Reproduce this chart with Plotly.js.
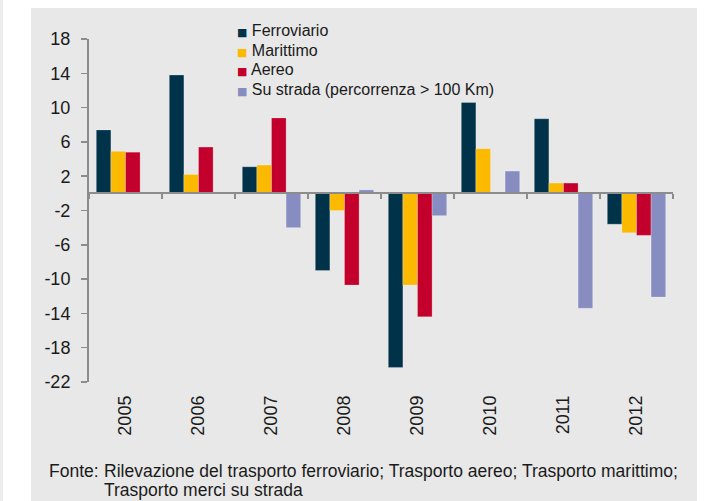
<!DOCTYPE html>
<html>
<head>
<meta charset="utf-8">
<script src="https://cdn.plot.ly/plotly-3.0.1.min.js"></script>
<style>
  html, body { margin: 0; padding: 0; background: #ffffff; width: 707px; height: 501px; overflow: hidden; }
  #strip { position: absolute; left: 0; top: 0; width: 3px; height: 501px; background: #ededed; }
  #chart { position: absolute; left: 31px; top: 8px; width: 666px; height: 493px; }
</style>
</head>
<body>
<div id="strip"></div>
<div id="chart"></div>
<script>
// ---- data ----
const years = ["2005", "2006", "2007", "2008", "2009", "2010", "2011", "2012"];
const ferroviario = [7.4, 13.8, 3.1, -9.0, -20.3, 10.6, 8.7, -3.6];
const marittimo   = [4.9, 2.2, 3.3, -2.0, -10.7, 5.2, 1.2, -4.6];
const aereo       = [4.8, 5.4, 8.8, -10.7, -14.4, null, 1.2, -4.9];
const strada      = [null, null, -4.0, 0.4, -2.6, 2.6, -13.4, -12.1];
const seriesNames = ["Ferroviario", "Marittimo", "Aereo", "Su strada (percorrenza > 100 Km)"];
const yTicks = [-22, -18, -14, -10, -6, -2, 2, 6, 10, 14, 18];
const sourceLabel = "Fonte:";
const sourceLines = ["Rilevazione del trasporto ferroviario; Trasporto aereo; Trasporto marittimo;",
                     "Trasporto merci su strada"];

const colors = ["#00324a", "#fbb900", "#c3002b", "#878dc1"];
const seriesValues = [ferroviario, marittimo, aereo, strada];
const FONT = "Liberation Sans, Arial, Helvetica, sans-serif";
const TXT = "#1a1a1a";

const traces = [];
seriesValues.forEach((vals, i) => {
  traces.push({
    type: "bar", x: years, y: vals, name: seriesNames[i],
    marker: { color: colors[i], line: { width: 0.8, color: "rgba(255,255,255,0.3)" } },
    showlegend: false, hoverinfo: "x+y"
  });
});
// carrier for the zero-line category axis
traces.push({
  type: "scatter", mode: "none", x: years, y: years.map(() => 0),
  xaxis: "x2", yaxis: "y", showlegend: false, hoverinfo: "skip"
});

// legend (key) built as annotations, from the series names and colours
const legendY = [1.0262, 0.9679, 0.9117, 0.8542];
const annotations = seriesNames.map((nm, i) => ({
  xref: "paper", yref: "paper", x: 0.2505, y: legendY[i], xanchor: "left", yanchor: "middle",
  showarrow: false, align: "left",
  text: '<span style="color:' + colors[i] + ';font-family:DejaVu Sans;font-size:11px">\u25A0</span> ' + nm,
  font: { family: FONT, size: 16, color: TXT }
}));
annotations.push(
  { xref: "paper", yref: "paper", x: -0.0725, y: -0.2586, xanchor: "left", yanchor: "middle",
    text: sourceLabel, showarrow: false, font: { family: FONT, size: 17.5, color: TXT } },
  { xref: "paper", yref: "paper", x: 0.0216, y: -0.2586, xanchor: "left", yanchor: "middle",
    text: sourceLines[0], showarrow: false, font: { family: FONT, size: 17.5, color: TXT } },
  { xref: "paper", yref: "paper", x: 0.0216, y: -0.3149, xanchor: "left", yanchor: "middle",
    text: sourceLines[1], showarrow: false, font: { family: FONT, size: 17.5, color: TXT } }
);

const layout = {
  width: 666, height: 493,
  margin: { l: 57.7, r: 23.7, t: 31, b: 119, pad: 0 },
  paper_bgcolor: "#e8e8e8",
  plot_bgcolor: "#e8e8e8",
  font: { family: FONT, size: 16, color: TXT },
  barmode: "group", bargap: 0.2, bargroupgap: 0,
  showlegend: false,
  xaxis: {
    type: "category", range: [-0.5, 7.5], fixedrange: true,
    showline: false, showgrid: false, zeroline: false, ticks: "",
    tickangle: -90, tickfont: { family: FONT, size: 18, color: TXT },
    ticklabelstandoff: 9
  },
  xaxis2: {
    type: "category", overlaying: "x", anchor: "free", position: 0.55, side: "bottom",
    range: [-0.5, 7.5], fixedrange: true,
    showline: true, linecolor: "#8c8c8c", linewidth: 2,
    ticks: "outside", tickson: "boundaries", ticklen: 5, tickwidth: 1.5, tickcolor: "#8c8c8c",
    showticklabels: false, showgrid: false, zeroline: false, layer: "above traces"
  },
  yaxis: {
    range: [-22, 18], fixedrange: true,
    tickmode: "array", tickvals: yTicks, ticktext: yTicks.map(String),
    showline: true, linecolor: "#8c8c8c", linewidth: 2,
    ticks: "outside", ticklen: 6, tickwidth: 1.5, tickcolor: "#8c8c8c",
    showgrid: false, zeroline: false,
    tickfont: { family: FONT, size: 18, color: TXT },
    ticklabelstandoff: 7
  },
  annotations: annotations
};

Plotly.newPlot("chart", traces, layout, { displayModeBar: false, staticPlot: true });
</script>
</body>
</html>
